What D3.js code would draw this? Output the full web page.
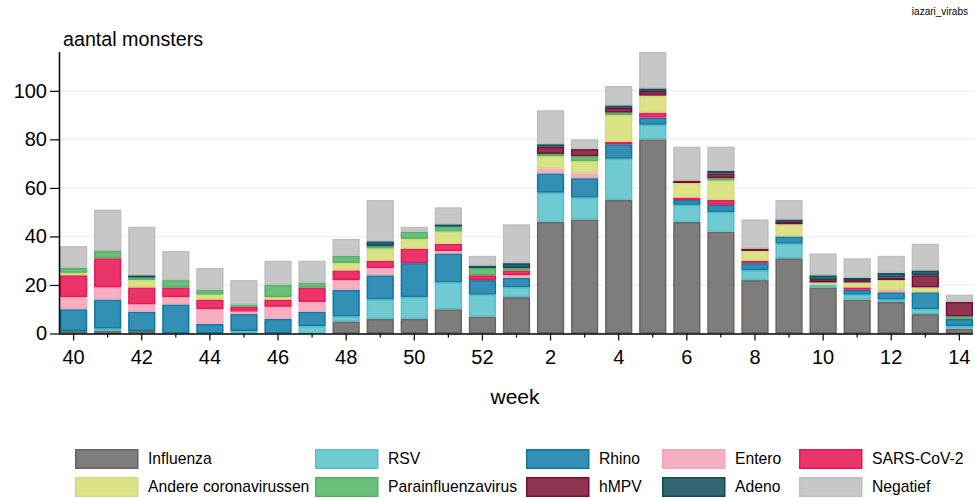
<!DOCTYPE html>
<html>
<head>
<meta charset="utf-8">
<script src="https://cdn.jsdelivr.net/npm/d3@7"></script>
<style>
  body { margin: 0; background: #fff; }
  svg { font-family: "Liberation Sans", Arial, sans-serif; display: block; }
</style>
</head>
<body>
<svg id="chart" width="975" height="498"></svg>
<script>
const weeks = [40,41,42,43,44,45,46,47,48,49,50,51,52,1,2,3,4,5,6,7,8,9,10,11,12,13,14];
const tickLabels = [40,42,44,46,48,50,52,2,4,6,8,10,12,14];
const yTicks = [0,20,40,60,80,100];

const influenza = [1,1,1,0,0,0,0,0,5,6,6,10,7,15,46,47,55,80,46,42,22,31,19,14,13,8,2];
const rsv       = [0,1,0,0,0,1,0,3,2,8,9,11,9,4,12,9,17,6,7,8,4,6,1,2,1,2,1];
const rhino     = [9,12,8,12,4,7,6,6,11,10,14,12,6,4,8,8,6,3,2,3,3,3,0,2,3,7,3];
const entero    = [5,5,3,3,6,1,5,4,4,3,0,1,0,1,2,2,0,0,0,0,0,0,0,0,1,0,0];
const sars      = [9,12,7,4,4,2,3,6,4,3,6,3,2,2,0,0,1,2,1,2,1,0,0,1,0,0,0];
const andere    = [1,0,3,0,2,0,1,0,3,5,4,5,0,0,5,5,11,7,6,8,4,5,1,2,4,2,0];
const para      = [2,3,1,3,2,1,5,2,3,1,3,2,3,1,1,2,1,0,0,1,0,0,0,0,0,0,1];
const hmpv      = [0,0,0,0,0,0,0,0,0,0,0,0,0,0,3,3,2,2,1,2,1,1,1,1,1,5,6];
const adeno     = [0,0,1,0,0,0,0,0,0,2,0,1,1,2,1,0,1,1,0,1,0,1,2,1,2,2,0];
const negatief  = [9,17,20,12,9,10,10,9,7,17,2,7,4,16,14,4,8,15,14,10,12,8,9,8,7,11,3];

const seriesNames = ["Influenza","RSV","Rhino","Entero","SARS-CoV-2","Andere coronavirussen","Parainfluenzavirus","hMPV","Adeno","Negatief"];
const seriesValues = [influenza, rsv, rhino, entero, sars, andere, para, hmpv, adeno, negatief];
const fills   = ["#7f7d7b","#70cad2","#338fb4","#f5afc1","#eb3469","#dbe287","#6ac07b","#8c364f","#336574","#c7c7c7"];
const strokes = ["#676461","#55c0c9","#0c79a5","#f4a6ba","#e8175a","#d5dc74","#50b262","#780c32","#0f4a5b","#bebebe"];

const svg = d3.select("#chart");
const width = +svg.attr("width");
const margin = {left: 60, top: 52, bottom: 333.5, right: 973};

const table = weeks.map((w, i) => {
    const row = {week: w};
    seriesNames.forEach((s, j) => row[s] = seriesValues[j][i]);
    return row;
});

const x = d3.scaleBand()
    .domain(weeks)
    .range([margin.left, margin.right])
    .paddingInner(0.2)
    .paddingOuter(0);

const y = d3.scaleLinear()
    .domain([0, 116])
    .range([margin.bottom, margin.top]);

const color = d3.scaleOrdinal().domain(seriesNames).range(fills);
const strokeColor = d3.scaleOrdinal().domain(seriesNames).range(strokes);

// gridlines
svg.append("g")
    .selectAll("line")
    .data(yTicks.filter(d => d > 0))
    .join("line")
    .attr("x1", margin.left)
    .attr("x2", width)
    .attr("y1", d => y(d))
    .attr("y2", d => y(d))
    .attr("stroke", "#ebf2f2")
    .attr("stroke-width", 1.5);

const stacked = d3.stack().keys(seriesNames)(table);

svg.append("g")
    .selectAll("g")
    .data(stacked)
    .join("g")
    .attr("fill", d => color(d.key))
    .attr("stroke", d => strokeColor(d.key))
    .selectAll("rect")
    .data(d => d.filter(p => p[1] > p[0]))
    .join("rect")
    .attr("x", d => x(d.data.week) + 0.75)
    .attr("y", d => y(d[1]) + 0.75)
    .attr("width", x.bandwidth() - 1.5)
    .attr("height", d => y(d[0]) - y(d[1]) - 1.5)
    .attr("stroke-width", 1.5);

// y axis
const yAxis = svg.append("g")
    .attr("transform", `translate(${margin.left},0)`)
    .call(d3.axisLeft(y).tickValues(yTicks).tickSize(10).tickPadding(3));
yAxis.select(".domain").attr("d", `M-0.5,${y(0)}V${margin.top}`).attr("stroke", "#000").attr("stroke-width", 1.5);
yAxis.selectAll(".tick line").attr("stroke", "#000").attr("stroke-width", 1.2);
yAxis.selectAll(".tick text").style("font-size", "20px").attr("fill", "#000");

// x axis
const xAxis = svg.append("g")
    .attr("transform", `translate(0,${y(0)})`)
    .call(d3.axisBottom(x).tickSize(4).tickFormat(d => tickLabels.includes(d) ? d : ""));
xAxis.select(".domain").attr("d", `M${margin.left - 1},0.5H${margin.right}`).attr("stroke", "#000").attr("stroke-width", 1.5);
xAxis.selectAll(".tick line")
    .attr("stroke", "#000")
    .attr("stroke-width", 1.2)
    .attr("y2", d => tickLabels.includes(d) ? 7 : 4);
xAxis.selectAll(".tick text")
    .attr("y", 16)
    .style("font-size", "20px")
    .attr("fill", "#000");

svg.append("text")
    .attr("x", 63)
    .attr("y", 46)
    .style("font-size", "19.7px")
    .text("aantal monsters");

svg.append("text")
    .attr("x", 968)
    .attr("y", 15)
    .attr("text-anchor", "end")
    .style("font-size", "10px")
    .text("iazari_virabs");

svg.append("text")
    .attr("x", 515)
    .attr("y", 404)
    .attr("text-anchor", "middle")
    .style("font-size", "21px")
    .text("week");

// legend
const legendCols = [75, 315, 526, 662, 799];
const legendRows = [449, 477];
const legend = svg.append("g")
    .selectAll("g")
    .data(seriesNames)
    .join("g")
    .attr("transform", (d, i) => `translate(${legendCols[i % 5]},${legendRows[Math.floor(i / 5)]})`);

legend.append("rect")
    .attr("x", 0.75)
    .attr("y", 0.75)
    .attr("width", 62)
    .attr("height", 18.5)
    .attr("fill", d => color(d))
    .attr("stroke", d => strokeColor(d))
    .attr("stroke-width", 1.5);

legend.append("text")
    .attr("x", 73)
    .attr("y", 10)
    .attr("dy", "0.35em")
    .style("font-size", "15.7px")
    .text(d => d);
</script>
</body>
</html>
